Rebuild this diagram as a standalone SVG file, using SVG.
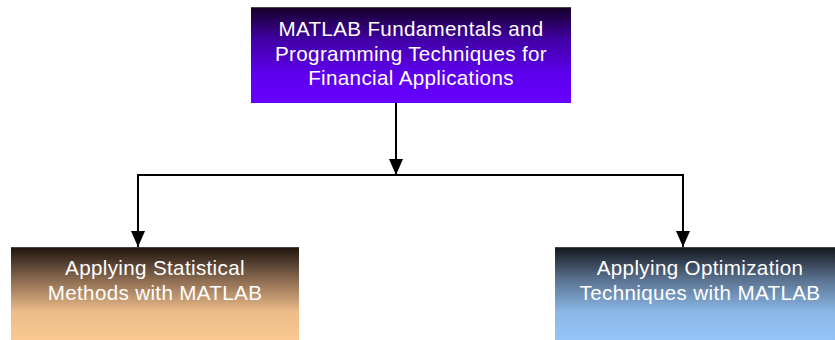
<svg xmlns="http://www.w3.org/2000/svg" width="835" height="340" viewBox="0 0 835 340">
<style>
.t{font-family:"Liberation Sans",Arial,sans-serif;font-size:20.6px;letter-spacing:0.35px;fill:#ffffff;text-anchor:middle}
.c{stroke:#000;stroke-width:2;fill:none}
</style>
<defs>
<linearGradient id="gTop" x1="0" y1="0" x2="0" y2="1">
<stop offset="0" stop-color="#140026"/>
<stop offset="0.35" stop-color="#4200a8"/>
<stop offset="0.7" stop-color="#5e00ee"/>
<stop offset="1" stop-color="#6600ff"/>
</linearGradient>
<linearGradient id="gLeft" x1="0" y1="0" x2="0" y2="1">
<stop offset="0" stop-color="#1e140e"/>
<stop offset="0.35" stop-color="#8a6a50"/>
<stop offset="0.7" stop-color="#eebc8a"/>
<stop offset="1" stop-color="#fac890"/>
</linearGradient>
<linearGradient id="gRight" x1="0" y1="0" x2="0" y2="1">
<stop offset="0" stop-color="#14161c"/>
<stop offset="0.35" stop-color="#5a7290"/>
<stop offset="0.7" stop-color="#8ab8e8"/>
<stop offset="1" stop-color="#94c4f6"/>
</linearGradient>
</defs>
<g id="connectors">
<line class="c" x1="396" y1="103" x2="396" y2="175"/>
<path d="M389,159 L403,159 L396,175 Z" fill="#000"/>
<polyline class="c" points="138,175 683,175"/>
<line class="c" x1="138" y1="174" x2="138" y2="247"/>
<path d="M131,231 L145,231 L138,247 Z" fill="#000"/>
<line class="c" x1="683" y1="174" x2="683" y2="247"/>
<path d="M676,231 L690,231 L683,247 Z" fill="#000"/>
</g>
<g id="node-top">
<rect x="251" y="7" width="320" height="96" fill="url(#gTop)"/>
<line x1="251" y1="7.5" x2="571" y2="7.5" stroke="#444" stroke-width="1"/>
<text class="t" x="411" y="36">MATLAB Fundamentals and</text>
<text class="t" x="411" y="61">Programming Techniques for</text>
<text class="t" x="411" y="85">Financial Applications</text>
</g>
<g id="node-left">
<rect x="11" y="247" width="288" height="93" fill="url(#gLeft)"/>
<line x1="11" y1="247.5" x2="299" y2="247.5" stroke="#444" stroke-width="1"/>
<text class="t" x="155" y="275">Applying Statistical</text>
<text class="t" x="155" y="300">Methods with MATLAB</text>
</g>
<g id="node-right">
<rect x="555" y="247" width="290" height="93" fill="url(#gRight)"/>
<line x1="555" y1="247.5" x2="845" y2="247.5" stroke="#444" stroke-width="1"/>
<text class="t" x="700" y="275">Applying Optimization</text>
<text class="t" x="700" y="300">Techniques with MATLAB</text>
</g>
</svg>
